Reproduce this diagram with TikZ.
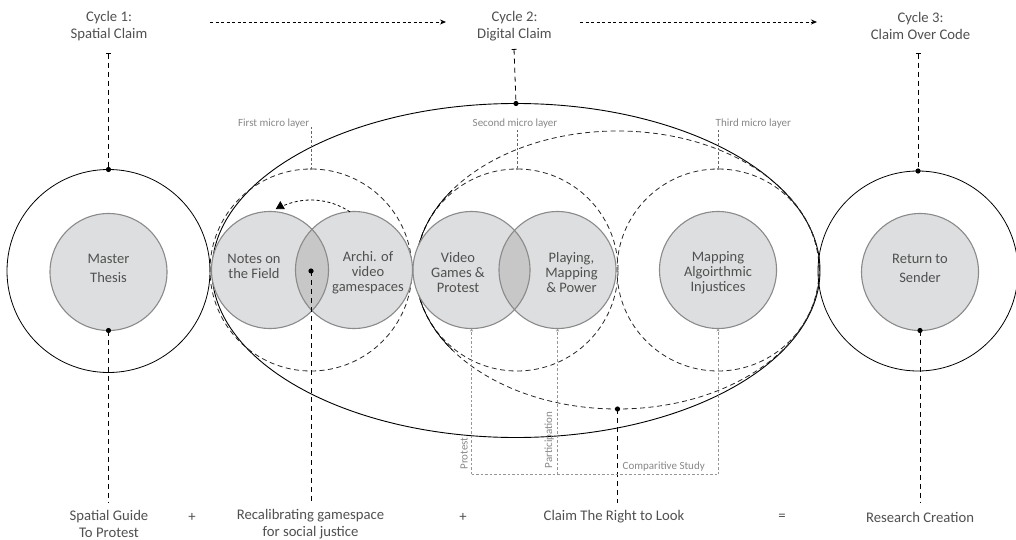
\documentclass[tikz,border=0pt]{standalone}
\usepackage{fontspec}
\setmainfont{Carlito}
\usetikzlibrary{shapes.geometric,arrows.meta}
\definecolor{txt}{RGB}{80,80,80}
\definecolor{ltxt}{RGB}{135,135,135}
\definecolor{cfill}{RGB}{221,222,223}
\definecolor{ovfill}{RGB}{199,199,200}
\definecolor{bord}{RGB}{138,138,138}
\definecolor{glines}{RGB}{150,150,150}
\definecolor{mline}{RGB}{100,100,100}
\begin{document}
\begin{tikzpicture}[x=1pt,y=-1pt,
  gc/.style={circle,draw=bord,line width=1.1pt,minimum size=117pt,inner sep=0pt,outer sep=0pt},
  ctext/.style={align=center,text=txt,inner sep=0pt,font=\fontsize{14.5}{15}\selectfont},
  ctextbig/.style={ctext,font=\fontsize{14.5}{19}\selectfont},
  cyc/.style={circle,draw=black,line width=0.8pt,inner sep=0pt,outer sep=0pt},
  microc/.style={circle,draw=black!85,line width=0.8pt,dash pattern=on 5pt off 3.5pt,minimum size=202pt,inner sep=0pt,outer sep=0pt},
  lbl/.style={text=txt,align=center,font=\fontsize{14.7}{17}\selectfont,inner sep=0pt},
  ml/.style={text=ltxt,font=\fontsize{11}{12}\selectfont,inner sep=0pt},
  vdash/.style={draw=black,line width=0.8pt,dash pattern=on 5pt off 4pt},
  tickline/.style={vdash,{Bar[width=5pt,line width=0.8pt]}-},
  mdash/.style={draw=mline,line width=0.7pt,dash pattern=on 2.5pt off 2pt},
  gl/.style={draw=glines,line width=0.8pt,dash pattern=on 2.5pt off 2pt},
  toparrow/.style={draw=black,line width=0.8pt,dash pattern=on 3pt off 2.5pt,-{Stealth[length=6pt,width=5pt]}},
  dotc/.style={fill=black}
]
\path[use as bounding box] (0,0) rectangle (1016,540);

% big solid ellipse
\node[ellipse,draw=black,line width=0.9pt,minimum width=608pt,minimum height=334pt,inner sep=0pt,outer sep=0pt] (big) at (516,270.5) {};
% micro layer dashed circles
\node[microc] (m1) at (311,270) {};
\node[microc] (m2) at (517,270) {};
\node[microc] (m3) at (718,270) {};
% large dashed ellipse over 2nd and 3rd layer
\node[ellipse,draw=black!85,line width=0.8pt,dash pattern=on 5pt off 3.5pt,minimum width=404pt,minimum height=278pt,inner sep=0pt,outer sep=0pt] (big2) at (617.5,270) {};
\draw[black,line width=0.7pt] (617.5,270) ++(-145:202 and 139) arc[start angle=-145,end angle=-215,x radius=202,y radius=139];
% cycle circles
\node[cyc,minimum size=203pt] (cyc1) at (108.5,271) {};
\node[cyc,minimum size=200pt] (cyc3) at (918,271) {};

% gray fills
\fill[cfill] (108.5,272) circle (58.5);
\fill[cfill] (270,270) circle (58.5);
\fill[cfill] (354,270) circle (58.5);
\fill[cfill] (471.5,270) circle (58.5);
\fill[cfill] (557.5,270) circle (58.5);
\fill[cfill] (718,270) circle (58.5);
\fill[cfill] (920,272) circle (58.5);
\begin{scope}
  \clip (270,270) circle (58.5);
  \fill[ovfill] (354,270) circle (58.5);
\end{scope}
\begin{scope}
  \clip (471.5,270) circle (58.5);
  \fill[ovfill] (557.5,270) circle (58.5);
\end{scope}

% gray circle nodes
\node[gc] (master) at (108.5,272) {};
\node[gc] (notes) at (270,270) {};
\node[gc] (archi) at (354,270) {};
\node[gc] (video) at (471.5,270) {};
\node[gc] (playing) at (557.5,270) {};
\node[gc] (mapping) at (718,270) {};
\node[gc] (sender) at (920,272) {};
% their texts
\node[ctextbig] (masterT) at (108.5,268) {Master\\Thesis};
\node[ctext] (notesT) at (254,266) {Notes on\\the Field};
\node[ctext] (archiT) at (368,273) {Archi. of\\video\\gamespaces};
\node[ctext] (videoT) at (458,273) {Video\\Games \&\\Protest};
\node[ctext] (playingT) at (571.5,273) {Playing,\\Mapping\\\& Power};
\node[ctext] (mappingT) at (718,273) {Mapping\\Algoirthmic\\Injustices};
\node[ctextbig] (senderT) at (920,268) {Return to\\Sender};

% top labels
\node[lbl] (c1) at (109,26) {Cycle 1:\\Spatial Claim};
\node[lbl] (c2) at (514.5,26) {Cycle 2:\\Digital Claim};
\node[lbl] (c3) at (920.5,26) {Cycle 3:\\Claim Over Code};
\coordinate (a1s) at (210,22);
\coordinate (a1e) at (446,22);
\coordinate (a2s) at (580,22);
\coordinate (a2e) at (817,22);
\draw[toparrow] (a1s) -- (a1e);
\draw[toparrow] (a2s) -- (a2e);

% ticks from top labels
\coordinate (t1) at (108.5,53);
\coordinate (t2) at (514,49);
\coordinate (t3) at (918,53);
\draw[tickline] (t1) -- (cyc1.north);
\draw[tickline] (t2) -- (big.north);
\draw[tickline] (t3) -- (cyc3.north);
\fill[dotc] (cyc1.north) circle (2.6);
\fill[dotc] (big.north) circle (2.6);
\fill[dotc] (cyc3.north) circle (2.6);

% micro layer labels
\node[ml,anchor=base east] (l1) at (309.5,126.5) {First micro layer};
\node[ml,anchor=base] (l2) at (515,126.5) {Second micro layer};
\node[ml,anchor=base west] (l3) at (715.5,126.5) {Third micro layer};
\coordinate (l1e) at (311,127);
\coordinate (l2e) at (517,130);
\coordinate (l3e) at (718,130);
\draw[mdash] (l1e) -- (m1.north);
\draw[mdash] (l2e) -- (m2.north);
\draw[mdash] (l3e) -- (m3.north);
\fill[mline] (m1.north) circle (1.2);
\fill[mline] (m2.north) circle (1.2);
\fill[mline] (m3.north) circle (1.2);

% arc arrow above notes/archi
\draw[black,line width=0.8pt,dash pattern=on 3pt off 2.5pt,-{Triangle[length=8pt,width=9pt]}] (311,270) ++(-56:70) arc[start angle=-56,end angle=-116,radius=70] -- ++(0,-6);

% bottom dashed connectors
\coordinate (ov) at (311,271);
\coordinate (b1) at (108.5,503);
\coordinate (b2) at (311,503);
\coordinate (b3) at (617.5,503);
\coordinate (b4) at (920,503);
\draw[vdash] (master.south) -- (b1);
\draw[vdash] (ov) -- (b2);
\draw[vdash] (big2.south) -- (b3);
\draw[vdash] (sender.south) -- (b4);
\fill[dotc] (master.south) circle (2.6);
\fill[dotc] (ov) circle (2.6);
\fill[dotc] (big2.south) circle (2.6);
\fill[dotc] (sender.south) circle (2.6);

% gray comparison lines
\coordinate (pv) at (471.5,474);
\coordinate (pp) at (557.5,474);
\coordinate (pm) at (718,474);
\draw[gl,-{Stealth[length=3pt,width=3pt]}] (pv) -- (video.south);
\draw[gl,-{Stealth[length=3pt,width=3pt]}] (pp) -- (playing.south);
\draw[gl,-{Stealth[length=3pt,width=3pt]}] (pm) -- (mapping.south);
\draw[gl] (pv) -- (pm);
\node[ml,rotate=90,anchor=south] (lprot) at (468,453.5) {Protest};
\node[ml,rotate=90,anchor=south] (lpart) at (554,440) {Participation};
\node[ml,anchor=base west] (lcomp) at (622.5,469.5) {Comparitive Study};

% bottom labels
\node[lbl,font=\fontsize{14.7}{16.5}\selectfont] (r1) at (109,524) {Spatial Guide\\To Protest};
\node[lbl] (p1) at (192,517) {+};
\node[lbl,font=\fontsize{14.7}{16.5}\selectfont] (r2) at (310.5,524) {Recalibrating gamespace\\for social justice};
\node[lbl] (p2) at (463,517) {+};
\node[lbl] (r3) at (614,517) {Claim The Right to Look};
\node[lbl] (eq) at (782,517) {=};
\node[lbl] (r4) at (920,517) {Research Creation};
\end{tikzpicture}
\end{document}
